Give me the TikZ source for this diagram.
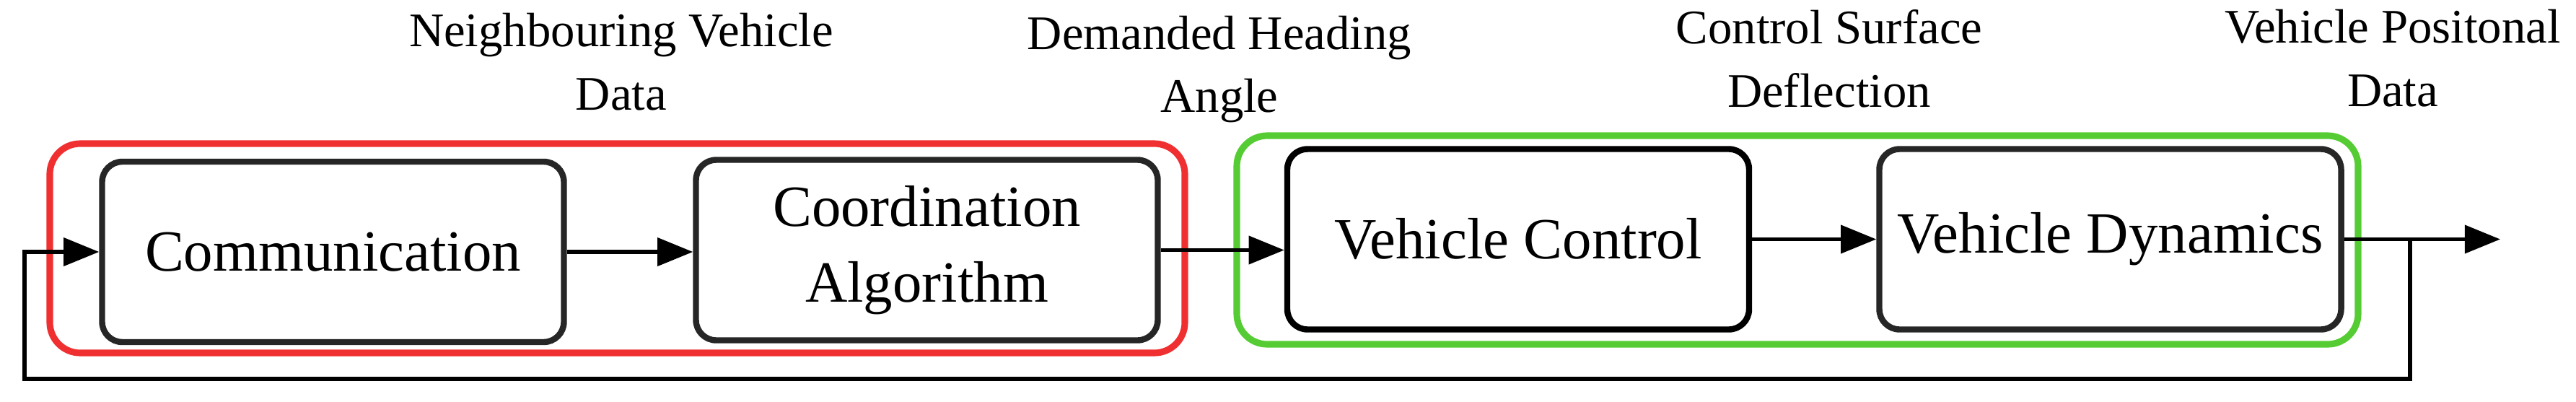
\documentclass[tikz,border=0pt]{standalone}
\usepackage{fontspec}
\newfontfamily\tms{Liberation Serif}
\definecolor{grpgreen}{HTML}{55CC33}
\definecolor{grpred}{HTML}{F03030}
\usetikzlibrary{arrows.meta}
\begin{document}
\begin{tikzpicture}[
  blk/.style={draw=black!85,line width=2.4pt,rounded corners=8pt,
    minimum width=6.4cm,minimum height=2.5cm,align=center,
    font=\tms\fontsize{23}{30}\selectfont},
  lbl/.style={align=center,font=\tms\fontsize{19}{25}\selectfont},
  grp/.style={line width=2.6pt,rounded corners=12pt},
  flow/.style={line width=1.5pt,-{Triangle[length=14pt,width=11pt]}}]
  \useasboundingbox (0,0) rectangle (35.7,5.56);
  % group frames
  \draw[grp,grpred] (0.69,0.67) rectangle (16.42,3.57);
  \draw[grp,grpgreen] (17.14,0.79) rectangle (32.68,3.68);
  % blocks
  \node[blk] (comm) at (4.615,2.07) {Communication};
  \node[blk] (coord) at (12.845,2.095) {Coordination\\Algorithm};
  \node[blk,draw=black] (ctrl) at (21.04,2.245) {Vehicle Control};
  \node[blk] (dyn) at (29.245,2.245) {Vehicle Dynamics};
  % signal labels
  \node[lbl] (nvd) at (8.61,4.7) {Neighbouring Vehicle\\Data};
  \node[lbl] (dha) at (16.9,4.6) {Demanded Heading\\Angle};
  \node[lbl] (csd) at (25.35,4.75) {Control Surface\\Deflection};
  \node[lbl] (vpd) at (33.16,4.75) {Vehicle Positonal\\Data};
  % connectors
  \coordinate (out) at (34.65,2.245);
  \coordinate (tap) at (33.4,2.245);
  \coordinate (fb) at (0.34,0.31);
  \draw[flow] (comm.east) -- (comm.east -| coord.west);
  \draw[flow] (coord.east) -- (coord.east -| ctrl.west);
  \draw[flow] (ctrl.east) -- (ctrl.east -| dyn.west);
  \draw[flow] (dyn.east) -- (out);
  \draw[flow] (tap) |- (fb) |- (comm.west);
\end{tikzpicture}
\end{document}
